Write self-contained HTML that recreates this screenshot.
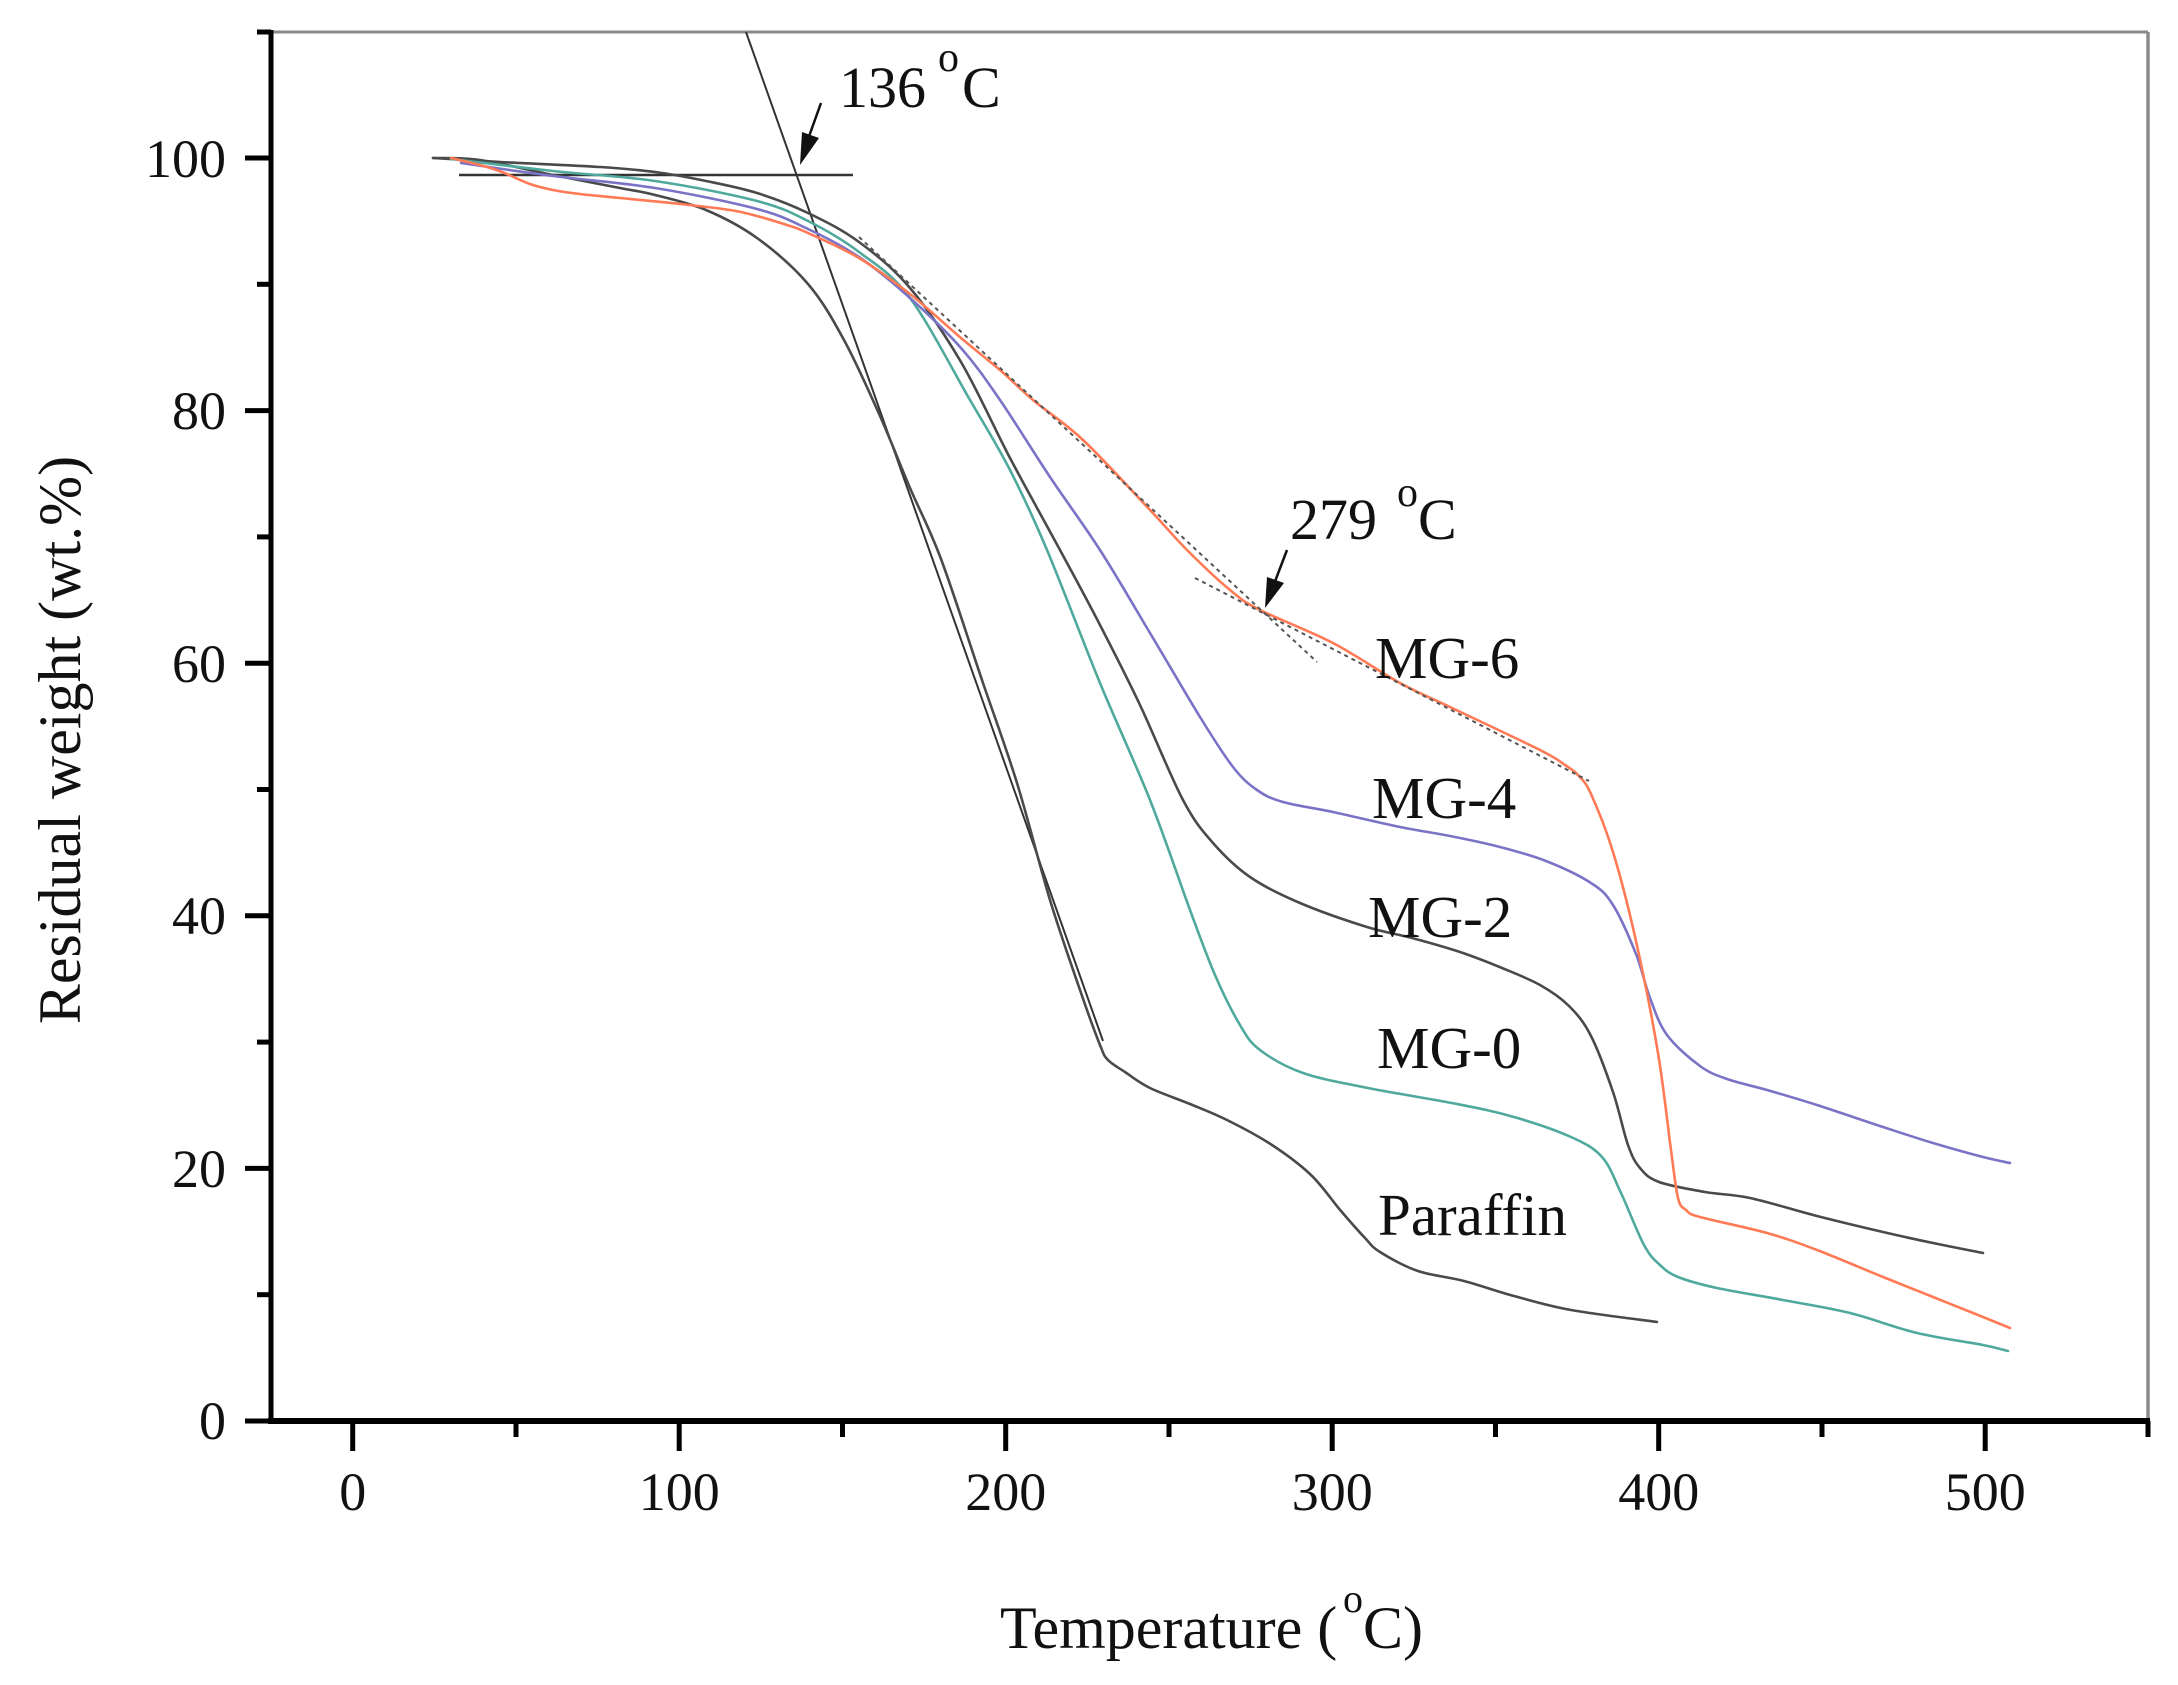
<!DOCTYPE html>
<html><head><meta charset="utf-8"><style>
html,body{margin:0;padding:0;background:#fff;}
svg{display:block;}
text{font-family:"Liberation Serif","Times New Roman",serif;fill:#111;}
</style></head><body>
<svg id="chart" width="2178" height="1685" viewBox="0 0 2178 1685" xmlns="http://www.w3.org/2000/svg">
<rect width="2178" height="1685" fill="#fff"/>
<!-- frame -->
<line x1="271" y1="32" x2="2148" y2="32" stroke="#8a8a8a" stroke-width="3"/>
<line x1="2148" y1="32" x2="2148" y2="1421" stroke="#8a8a8a" stroke-width="3.5"/>
<line x1="271" y1="30" x2="271" y2="1424" stroke="#000" stroke-width="5"/>
<line x1="268" y1="1421" x2="2150" y2="1421" stroke="#000" stroke-width="6"/>
<!-- y ticks -->
<g stroke="#000" stroke-width="5">
<line x1="245" y1="1421" x2="271" y2="1421"/>
<line x1="257" y1="1294.7" x2="271" y2="1294.7"/>
<line x1="245" y1="1168.4" x2="271" y2="1168.4"/>
<line x1="257" y1="1042.1" x2="271" y2="1042.1"/>
<line x1="245" y1="915.8" x2="271" y2="915.8"/>
<line x1="257" y1="789.5" x2="271" y2="789.5"/>
<line x1="245" y1="663.2" x2="271" y2="663.2"/>
<line x1="257" y1="536.9" x2="271" y2="536.9"/>
<line x1="245" y1="410.6" x2="271" y2="410.6"/>
<line x1="257" y1="284.3" x2="271" y2="284.3"/>
<line x1="245" y1="158" x2="271" y2="158"/>
<line x1="257" y1="32" x2="271" y2="32"/>
</g>
<!-- x ticks -->
<g stroke="#000" stroke-width="5">
<line x1="352.7" y1="1421" x2="352.7" y2="1451"/>
<line x1="516" y1="1421" x2="516" y2="1437"/>
<line x1="679.2" y1="1421" x2="679.2" y2="1451"/>
<line x1="842.5" y1="1421" x2="842.5" y2="1437"/>
<line x1="1005.7" y1="1421" x2="1005.7" y2="1451"/>
<line x1="1169" y1="1421" x2="1169" y2="1437"/>
<line x1="1332.2" y1="1421" x2="1332.2" y2="1451"/>
<line x1="1495.5" y1="1421" x2="1495.5" y2="1437"/>
<line x1="1658.7" y1="1421" x2="1658.7" y2="1451"/>
<line x1="1822" y1="1421" x2="1822" y2="1437"/>
<line x1="1985.2" y1="1421" x2="1985.2" y2="1451"/>
<line x1="2148" y1="1421" x2="2148" y2="1437"/>
</g>
<!-- y tick labels -->
<g font-size="54" text-anchor="end">
<text x="226" y="1439">0</text>
<text x="226" y="1187">20</text>
<text x="226" y="934">40</text>
<text x="226" y="682">60</text>
<text x="226" y="429">80</text>
<text x="226" y="177">100</text>
</g>
<!-- x tick labels -->
<g font-size="54" text-anchor="middle">
<text x="352.7" y="1510">0</text>
<text x="679.2" y="1510">100</text>
<text x="1005.7" y="1510">200</text>
<text x="1332.2" y="1510">300</text>
<text x="1658.7" y="1510">400</text>
<text x="1985.2" y="1510">500</text>
</g>
<!-- axis titles -->
<text x="80" y="740" font-size="60" text-anchor="middle" transform="rotate(-90 80 740)">Residual weight (wt.%)</text>
<text font-size="60"><tspan x="1000" y="1648">Temperature (</tspan><tspan x="1343" y="1612" font-size="40">o</tspan><tspan x="1363" y="1648">C)</tspan></text>

<!-- construction lines for 136 C -->
<line x1="746" y1="32" x2="1103" y2="1041" stroke="#333" stroke-width="2"/>
<line x1="459" y1="175" x2="853" y2="175" stroke="#333" stroke-width="2.5"/>
<line x1="821" y1="103" x2="807" y2="142" stroke="#111" stroke-width="2.5"/>
<polygon points="800,165 819,138 802,132" fill="#111"/>
<text font-size="58"><tspan x="839" y="107">136</tspan><tspan x="938" y="71" font-size="42">o</tspan><tspan x="962" y="107">C</tspan></text>

<!-- curves -->
<g id="curves" fill="none" stroke-width="2.6" stroke-linejoin="round" stroke-linecap="round">
<polyline stroke="#4a4a4a" points="433,158 480,160 553,175 620,188 655,195 706,210 757,238 808,284 844,340 880,416 910,488 941,559 983,683 1017,783 1050,900 1080,990 1100,1045 1108,1060 1125,1072 1150,1088 1190,1104 1227,1120 1272,1145 1311,1175 1341,1211 1365,1238 1380,1252 1418,1271 1464,1281 1514,1296 1571,1310 1657,1322"/>
<polyline stroke="#4a4a4a" points="433,158 500,162 600,167 655,172 706,181 757,193 808,213 859,242 910,288 961,362 1010,458 1060,550 1100,625 1140,705 1183,800 1213,843 1250,877 1300,903 1367,927 1412,938 1460,952 1502,968 1540,985 1569,1006 1591,1036 1613,1092 1628,1145 1640,1168 1659,1182 1705,1192 1750,1198 1817,1216 1883,1232 1933,1243 1983,1253"/>
<polyline stroke="#4fa99c" points="451,159 553,171 655,181 757,201 808,221 859,252 910,298 970,400 1010,470 1047,550 1100,683 1150,800 1190,910 1215,975 1240,1025 1260,1050 1303,1073 1368,1088 1457,1104 1514,1117 1571,1137 1602,1157 1621,1193 1644,1245 1660,1265 1678,1277 1717,1288 1783,1300 1850,1313 1917,1333 1983,1345 2008,1351"/>
<polyline stroke="#7b73c6" points="461,163 553,176 655,188 757,209 808,229 859,257 910,298 961,348 1000,400 1050,477 1100,550 1150,633 1200,717 1233,767 1257,790 1283,802 1333,812 1400,827 1450,836 1500,847 1546,861 1591,883 1613,905 1636,954 1650,998 1667,1035 1700,1066 1727,1079 1767,1090 1817,1105 1883,1127 1933,1143 1983,1157 2010,1163"/>
<polyline stroke="#ff7a55" points="451,158 480,165 502,172 530,184 553,190 580,194 620,198 681,204 730,210 757,216 790,226 808,233 859,258 910,294 961,338 1000,370 1033,400 1083,440 1150,510 1187,550 1230,590 1260,610 1333,643 1400,683 1450,707 1540,750 1565,765 1578,775 1591,794 1613,852 1636,941 1658,1053 1671,1150 1678,1198 1686,1210 1700,1217 1767,1233 1817,1250 1883,1277 1933,1297 1983,1317 2010,1328"/>
</g>

<!-- dotted tangents for 279 C -->
<line x1="859" y1="237" x2="1317" y2="662" stroke="#555" stroke-width="2" stroke-dasharray="4,4"/>
<line x1="1195" y1="578" x2="1589" y2="781" stroke="#555" stroke-width="2" stroke-dasharray="4,4"/>
<line x1="1287" y1="550" x2="1274" y2="584" stroke="#111" stroke-width="2.5"/>
<polygon points="1265,608 1284,583 1267,577" fill="#111"/>
<text font-size="58"><tspan x="1290" y="539">279</tspan><tspan x="1397" y="506" font-size="42">o</tspan><tspan x="1418" y="539">C</tspan></text>

<!-- series labels -->
<g font-size="59">
<text x="1375" y="678">MG-6</text>
<text x="1372" y="818">MG-4</text>
<text x="1368" y="937">MG-2</text>
<text x="1377" y="1068">MG-0</text>
<text x="1378" y="1235">Paraffin</text>
</g>
</svg>
<script>
(function(){
  try{
    var ns="http://www.w3.org/2000/svg";
    var pls=document.querySelectorAll('#curves polyline');
    for(var k=0;k<pls.length;k++){
      var pl=pls[k];
      var raw=pl.getAttribute('points').trim().split(/\s+/);
      var p=[];
      for(var i=0;i<raw.length;i++){var c=raw[i].split(',');p.push([+c[0],+c[1]]);}
      var d='M'+p[0][0]+','+p[0][1];
      var t=0.5;
      for(var i=0;i<p.length-1;i++){
        var p0=p[i>0?i-1:i],p1=p[i],p2=p[i+1],p3=p[i+2<p.length?i+2:i+1];
        var c1x=p1[0]+(p2[0]-p0[0])*t/3,c1y=p1[1]+(p2[1]-p0[1])*t/3;
        var c2x=p2[0]-(p3[0]-p1[0])*t/3,c2y=p2[1]-(p3[1]-p1[1])*t/3;
        d+=' C'+c1x.toFixed(1)+','+c1y.toFixed(1)+' '+c2x.toFixed(1)+','+c2y.toFixed(1)+' '+p2[0]+','+p2[1];
      }
      var path=document.createElementNS(ns,'path');
      path.setAttribute('d',d);
      path.setAttribute('stroke',pl.getAttribute('stroke'));
      pl.parentNode.insertBefore(path,pl);
      pl.parentNode.removeChild(pl);
    }
  }catch(e){}
})();
</script>
</body></html>
